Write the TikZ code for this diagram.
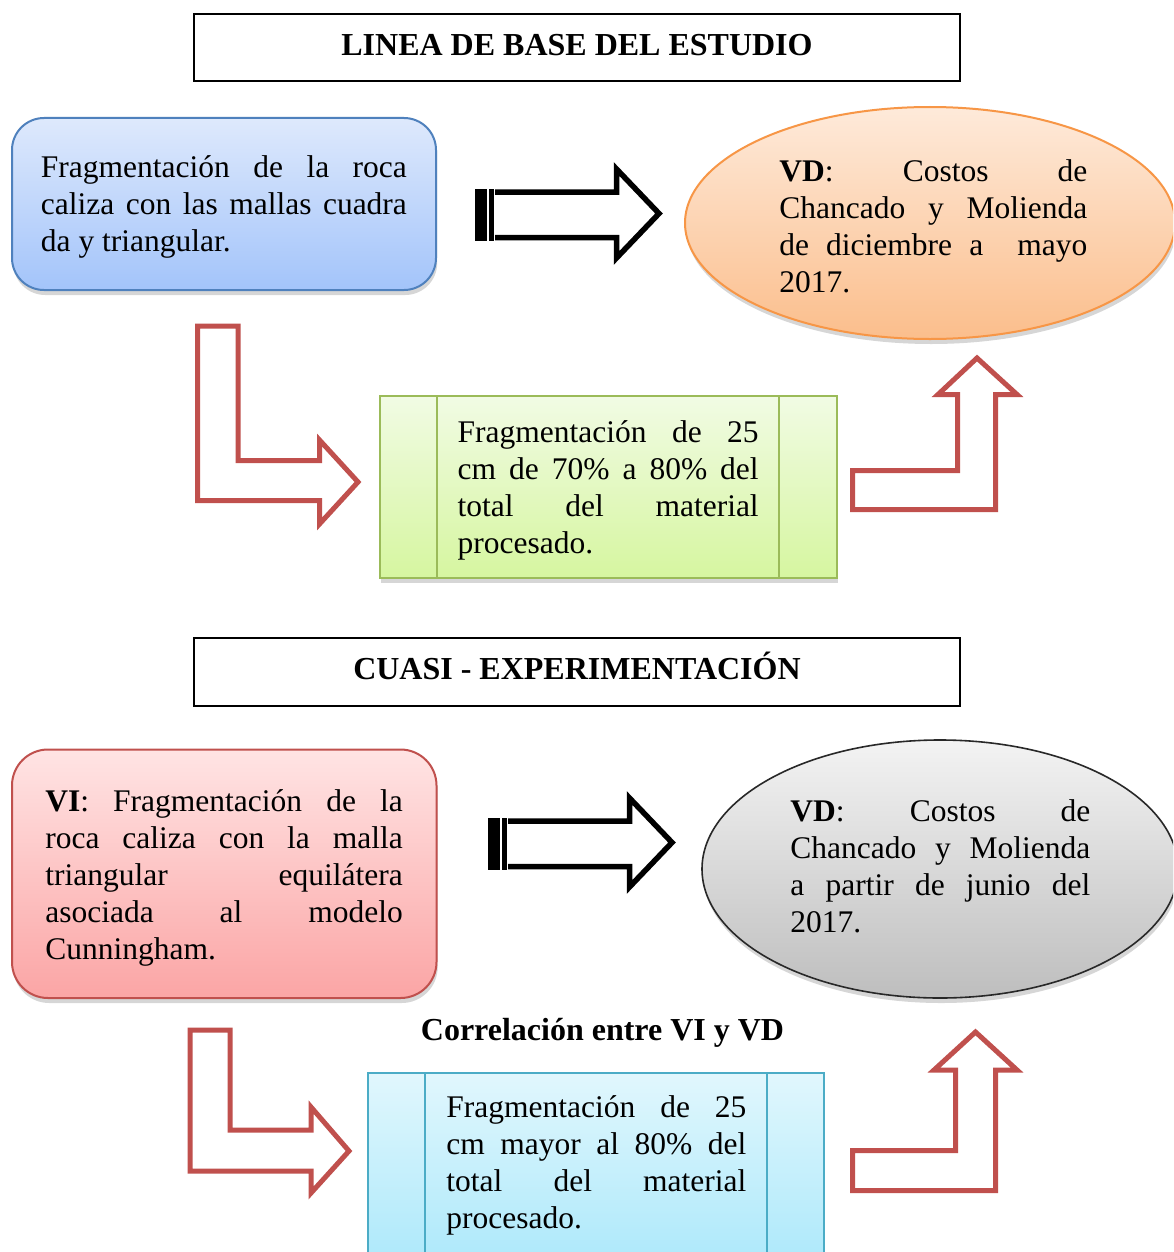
\documentclass[tikz,border=0pt]{standalone}
\usepackage{fontspec}
\setmainfont{Liberation Serif}
\usetikzlibrary{shadows}
\tolerance=10000
\hbadness=10000
\hyphenpenalty=10000
\definecolor{bluetop}{RGB}{222,233,252}
\definecolor{bluebot}{RGB}{163,196,250}
\definecolor{blueline}{RGB}{79,129,189}
\definecolor{orgtop}{RGB}{254,234,218}
\definecolor{orgbot}{RGB}{251,190,140}
\definecolor{orgline}{RGB}{247,150,70}
\definecolor{grntop}{RGB}{241,251,228}
\definecolor{grnbot}{RGB}{214,246,160}
\definecolor{grnline}{RGB}{155,187,89}
\definecolor{redtop}{RGB}{255,228,228}
\definecolor{redbot}{RGB}{251,165,165}
\definecolor{redline}{RGB}{192,80,77}
\definecolor{gratop}{RGB}{243,243,243}
\definecolor{grabot}{RGB}{190,190,190}
\definecolor{graline}{RGB}{40,40,40}
\definecolor{cyntop}{RGB}{225,247,253}
\definecolor{cynbot}{RGB}{163,230,250}
\definecolor{cynline}{RGB}{75,172,198}
\begin{document}
\begin{tikzpicture}[x=0.5pt,y=-0.5pt,
 txt/.style={inner sep=0pt, anchor=base west, align=justify, font=\fontsize{15.75}{18.6}\selectfont},
 ttl/.style={inner sep=0pt, anchor=base, font=\fontsize{16}{18.6}\selectfont\bfseries},
 shade/.style={drop shadow={opacity=0.32, shadow xshift=0.6pt, shadow yshift=-2.5pt}},
 redarrow/.style={draw=redline, line width=2.5pt, fill=white, line join=miter},
 blkarrow/.style={draw=black, line width=2.75pt, fill=white, line join=miter},
 ttlbox/.style={draw=black, line width=0.6pt},
]
\path[use as bounding box] (0,0) rectangle (1173,1252);
\clip (0,0) rectangle (1173,1252);
\fill[white] (0,0) rectangle (1173,1252);

% ---------- titles ----------
\draw[ttlbox] (194,14) rectangle (960,81);
\node[ttl] (title1) at (577,56) {LINEA DE BASE DEL ESTUDIO};
\draw[ttlbox] (194,638) rectangle (960,706);
\node[ttl] (title2) at (577,679) {CUASI - EXPERIMENTACIÓN};

% ---------- upper section ----------
\path[shade, top color=bluetop, bottom color=bluebot, draw=blueline, line width=1pt, rounded corners=16pt]
  (12,118) rectangle (436,290);
\node[txt, text width=183pt] (t1) at (40.5,177)
 {Fragmentación de la roca\linebreak caliza con las mallas cuadra\linebreak da y triangular.};

\begin{scope}
\draw[blkarrow] (495,192) -- (616.5,192) -- (616.5,169) -- (659,213.5) -- (616.5,258) -- (616.5,237.5) -- (495,237.5);
\fill[black] (475,189) rectangle (486.5,240.5);
\fill[black] (488.5,189) rectangle (494,240.5);
\end{scope}

\path[shade, top color=orgtop, bottom color=orgbot, draw=orgline, line width=1pt]
  (930,223) ellipse [x radius=122.5pt, y radius=58pt];
\node[txt, text width=154pt] (t2) at (779,181)
 {\textbf{VD}: Costos de\linebreak Chancado y Molienda\linebreak de diciembre a \ mayo\linebreak 2017.};

\draw[redarrow] (197.5,326) -- (238,326) -- (238,460.5) -- (319.5,460.5) -- (319.5,440) -- (358,482) -- (319.5,524) -- (319.5,500.5) -- (197.5,500.5) -- cycle;

\path[shade, top color=grntop, bottom color=grnbot, draw=grnline, line width=1pt]
  (379.5,395.5) rectangle (836.5,577.5);
\draw[grnline, line width=1pt] (437,395.5) -- (437,577.5) (779,395.5) -- (779,577.5);
\node[txt, text width=150.5pt] (t3) at (457.3,442)
 {Fragmentación de 25\linebreak cm de 70\% a 80\% del\linebreak total del material\linebreak procesado.};

\draw[redarrow] (852.5,509.5) -- (995.5,509.5) -- (995.5,394.5) -- (1017,394.5) -- (977,358) -- (938,394.5) -- (957.5,394.5) -- (957.5,470.5) -- (852.5,470.5) -- cycle;

% ---------- lower section ----------
\path[shade, top color=redtop, bottom color=redbot, draw=redline, line width=1pt, rounded corners=18pt]
  (12,749.5) rectangle (436.5,998);
\node[txt, text width=178.7pt] (t4) at (45,811)
 {\textbf{VI}: Fragmentación de la\linebreak roca caliza con la malla\linebreak triangular equilátera\linebreak asociada al modelo\linebreak Cunningham.};

\begin{scope}[shift={(13,629)}]
\draw[blkarrow] (495,192) -- (616.5,192) -- (616.5,169) -- (659,213.5) -- (616.5,258) -- (616.5,237.5) -- (495,237.5);
\fill[black] (475,189) rectangle (486.5,240.5);
\fill[black] (488.5,189) rectangle (494,240.5);
\end{scope}

\path[shade, top color=gratop, bottom color=grabot, draw=graline, line width=0.8pt]
  (940,869) ellipse [x radius=119pt, y radius=64.5pt];
\node[txt, text width=150pt] (t5) at (790,821)
 {\textbf{VD}: Costos de\linebreak Chancado y Molienda\linebreak a partir de junio del\linebreak 2017.};

\node[ttl] (corr) at (602.5,1040) {Correlación entre VI y VD};

\draw[redarrow] (190,1030) -- (230,1030) -- (230,1130) -- (311,1130) -- (311,1107) -- (349,1151) -- (311,1193) -- (311,1171) -- (190,1171) -- cycle;

\path[shade, top color=cyntop, bottom color=cynbot, draw=cynline, line width=1pt]
  (367.5,1072.5) rectangle (824,1300);
\draw[cynline, line width=1pt] (425,1072.5) -- (425,1300) (767,1072.5) -- (767,1300);
\node[txt, text width=150pt] (t6) at (446,1117)
 {Fragmentación de 25\linebreak cm mayor al 80\% del\linebreak total del material\linebreak procesado.};

\draw[redarrow] (852.5,1190.5) -- (995.5,1190.5) -- (995.5,1070) -- (1017,1070) -- (975.5,1032) -- (934,1070) -- (955.5,1070) -- (955.5,1150.5) -- (852.5,1150.5) -- cycle;
\end{tikzpicture}
\end{document}
